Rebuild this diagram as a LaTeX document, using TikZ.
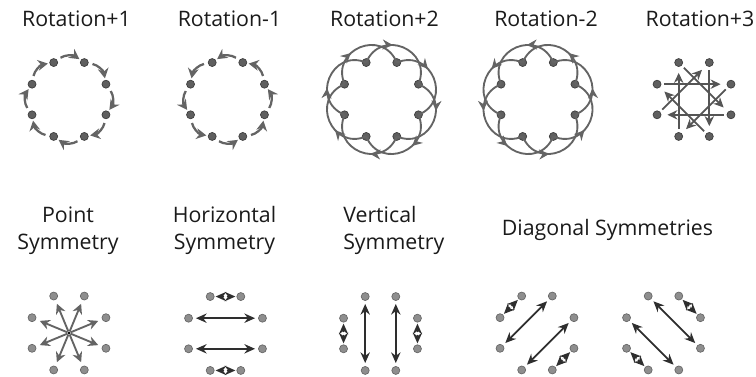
\documentclass[tikz,border=0pt]{standalone}
\usepackage{fontspec}
\setmainfont{Open Sans}
\usetikzlibrary{arrows.meta, calc, decorations.markings}
\definecolor{ink}{HTML}{1A1A1A}
\definecolor{dotdark}{HTML}{5F5F5F}
\definecolor{dotrim}{HTML}{3C3C3C}
\definecolor{dotpale}{HTML}{8E8E8E}
\definecolor{dotpalerim}{HTML}{666666}
\definecolor{hopgray}{HTML}{646464}
\definecolor{jumpgray}{HTML}{555555}
\definecolor{mirrorink}{HTML}{2E2E2E}

\begin{document}
\begin{tikzpicture}[
    x=.75pt, y=.75pt,
    title/.style={font=\fontsize{16}{20.25}\selectfont, text=ink, inner sep=0pt, anchor=base},
    rotdot/.style={circle, fill=dotdark, draw=dotrim, line width=.5pt, inner sep=0pt, minimum size=6pt},
    symdot/.style={rotdot, fill=dotpale, draw=dotpalerim},
    hub/.style={circle, fill=black, inner sep=0pt, minimum size=2pt},
    hop/.style={draw=hopgray, line width=1.7pt, -{Stealth[length=7.5pt, width=8pt]},
        shorten <=3pt, shorten >=1.2pt},
    leap/.style={draw=hopgray, line width=1.4pt, postaction={decorate},
        decoration={markings, mark=at position .38 with {\arrow{Stealth[length=7.5pt, width=7.5pt]}}}},
    jump/.style={draw=jumpgray, line width=1.3pt, -{Stealth[length=7.5pt, width=7pt]},
        shorten <=2.3pt, shorten >=4.5pt},
    spoke/.style={draw=hopgray, line width=1.4pt, -{Stealth[length=7.5pt, width=7.5pt]}, shorten >=3pt},
    mirror/.style={draw=mirrorink, line width=1.3pt,
        {Stealth[length=8pt, width=7pt]}-{Stealth[length=8pt, width=7pt]},
        shorten <=2.3pt, shorten >=2.3pt},
    flip/.style={mirror, shorten <=.8pt, shorten >=.8pt},
    hole/.style={circle, fill=white, inner sep=0pt, minimum size=2.2pt},
]
    \useasboundingbox (0,0) rectangle (756,-377);

    %% titles
    \node[title] (p1-title) at (76.5,-27) {Rotation+1};
    \node[title] (m1-title) at (229.5,-27) {Rotation-1};
    \node[title] (p2-title) at (384.5,-27) {Rotation+2};
    \node[title] (m2-title) at (546,-27) {Rotation-2};
    \node[title] (p3-title) at (700,-27) {Rotation+3};
    \node[title, align=center] (pt-title) at (68,-250) {Point\\Symmetry};
    \node[title, align=center] (hz-title) at (224.5,-250) {Horizontal\\Symmetry};
    \node[title, align=left, anchor=base west] (vt-title) at (343,-250) {Vertical\\Symmetry};
    \node[title] (dg-title) at (607.5,-236) {Diagonal Symmetries};

    %% the eight dots of every panel, dot 0 top left, clockwise
    \foreach \c/\x/\y in {p1/69/99.5, m1/227.5/99.5, p2/381.5/99.5, m2/538/99.5, p3/694/99.5}
        \foreach \k in {0,...,7}
            \node[rotdot] (\c-\k) at ($(\x,-\y)+({112.5-45*\k}:40)$) {};
    \foreach \c/\x/\y in {pt/69/333, hz/225.5/333.5, vt/380.5/333.5, dl/537/333, dr/663.5/333}
        \foreach \k in {0,...,7}
            \node[symdot] (\c-\k) at ($(\x,-\y)+({112.5-45*\k}:40)$) {};

    %% rotations by one, two and three steps
    \foreach \k [evaluate=\k as \n using {int(mod(\k+1,8))}] in {0,...,7}
        \draw[hop] (p1-\k) to[bend left=35] (p1-\n);
    \foreach \k [evaluate=\k as \n using {int(mod(\k+7,8))}] in {0,...,7}
        \draw[hop] (m1-\k) to[bend right=35] (m1-\n);
    \foreach \k [evaluate=\k as \n using {int(mod(\k+2,8))}] in {0,...,7}
        \draw[leap] (p2-\k.center) to[bend left=90, looseness=1.7] (p2-\n.center);
    \foreach \k [evaluate=\k as \n using {int(mod(\k+6,8))}] in {0,...,7}
        \draw[leap] (m2-\k.center) to[bend right=90, looseness=1.7] (m2-\n.center);
    \foreach \k [evaluate=\k as \n using {int(mod(\k+3,8))}] in {0,...,7}
        \draw[jump] (p3-\k) -- (p3-\n);

    %% point symmetry
    \node[hub] (pt-c) at (69,-333) {};
    \foreach \k in {0,...,7}
        \draw[spoke] (pt-c) -- (pt-\k);

    %% mirror pairs
    \draw[mirror] (hz-7) -- (hz-2);
    \draw[mirror] (hz-6) -- (hz-3);
    \draw[flip] (hz-0) -- node[hole] (hz-h0) {} (hz-1);
    \draw[flip] (hz-5) -- node[hole] (hz-h1) {} (hz-4);

    \draw[mirror] (vt-0) -- (vt-5);
    \draw[mirror] (vt-1) -- (vt-4);
    \draw[flip] (vt-7) -- node[hole] (vt-h0) {} (vt-6);
    \draw[flip] (vt-2) -- node[hole] (vt-h1) {} (vt-3);

    \draw[mirror] (dl-1) -- (dl-6);
    \draw[mirror] (dl-2) -- (dl-5);
    \draw[flip] (dl-0) -- node[hole] (dl-h0) {} (dl-7);
    \draw[flip] (dl-3) -- node[hole] (dl-h1) {} (dl-4);

    \draw[mirror] (dr-0) -- (dr-3);
    \draw[mirror] (dr-7) -- (dr-4);
    \draw[flip] (dr-1) -- node[hole] (dr-h0) {} (dr-2);
    \draw[flip] (dr-6) -- node[hole] (dr-h1) {} (dr-5);
\end{tikzpicture}
\end{document}
